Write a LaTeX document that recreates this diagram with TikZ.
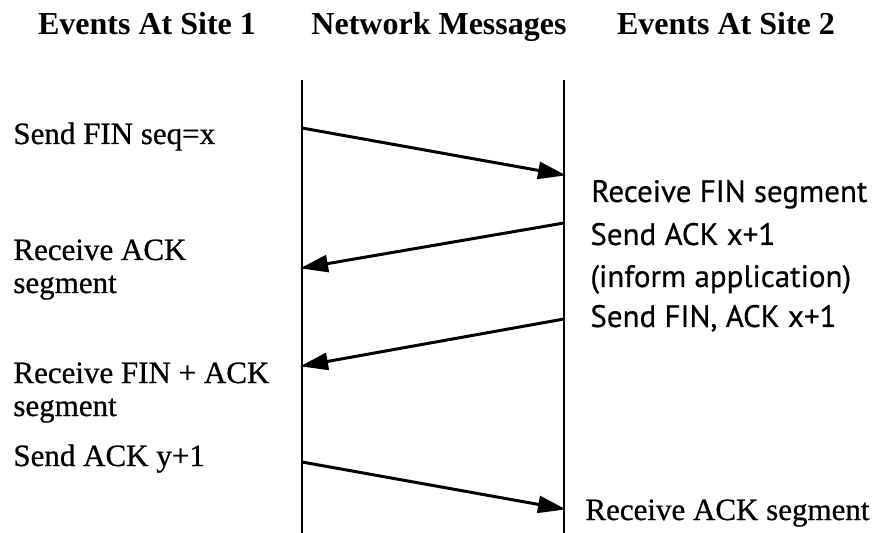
\documentclass[tikz,border=0pt]{standalone}
\usepackage{fontspec}
\setmainfont{Liberation Serif}
\newfontfamily\bodyfont[FakeBold=0.7]{Liberation Serif}
\newfontfamily\evfont[FakeBold=0.5]{PT Sans}
\usetikzlibrary{arrows.meta}
\begin{document}
\begin{tikzpicture}[x=0.5pt,y=-0.5pt,
  lane/.style={line width=1.4pt},
  msg/.style={line width=1.5pt,-{Triangle[length=14pt,width=8.5pt]},shorten >=-1pt},
  head/.style={font=\fontsize{16}{19}\selectfont\bfseries,inner sep=0pt,anchor=base},
  evl/.style={font=\fontsize{15.5}{18}\selectfont\bodyfont,inner sep=0pt,anchor=base west},
  evr/.style={font=\fontsize{15.5}{18}\selectfont\evfont,inner sep=0pt,anchor=base west}]
\useasboundingbox (0,0) rectangle (881,533);

% column headings
\node[head] (h1) at (147,35) {Events At Site 1};
\node[head] (h2) at (439,35) {Network Messages};
\node[head] (h3) at (726,35) {Events At Site 2};

% time lines of the two sites
\coordinate (ltop) at (302,80);
\coordinate (lbot) at (302,533);
\coordinate (rtop) at (564,80);
\coordinate (rbot) at (564,533);
\draw[lane] (ltop) -- (lbot);
\draw[lane] (rtop) -- (rbot);

% message end points on the time lines
\coordinate (m1s) at (302,128);
\coordinate (m1e) at (564,175);
\coordinate (m2s) at (564,223);
\coordinate (m2e) at (302,268);
\coordinate (m3s) at (564,319);
\coordinate (m3e) at (302,366);
\coordinate (m4s) at (302,462);
\coordinate (m4e) at (564,509);

\draw[msg] (m1s) -- (m1e);
\draw[msg] (m2s) -- (m2e);
\draw[msg] (m3s) -- (m3e);
\draw[msg] (m4s) -- (m4e);

% events at site 1
\node[evl] (a1) at (13,144) {Send FIN seq=x};
\node[evl] (a2) at (13,260) {Receive ACK};
\node[evl] (a3) at (13,293) {segment};
\node[evl] (a4) at (13,383) {Receive FIN + ACK};
\node[evl] (a5) at (13,416) {segment};
\node[evl] (a6) at (13,466) {Send ACK y+1};

% events at site 2
\node[evr] (b1) at (591,202) {Receive FIN segment};
\node[evr] (b2) at (590,245) {Send ACK x+1};
\node[evr] (b3) at (590,287) {(inform application)};
\node[evr] (b4) at (590,327) {Send FIN, ACK x+1};
\node[evl] (b5) at (585,520) {Receive ACK segment};
\end{tikzpicture}
\end{document}
